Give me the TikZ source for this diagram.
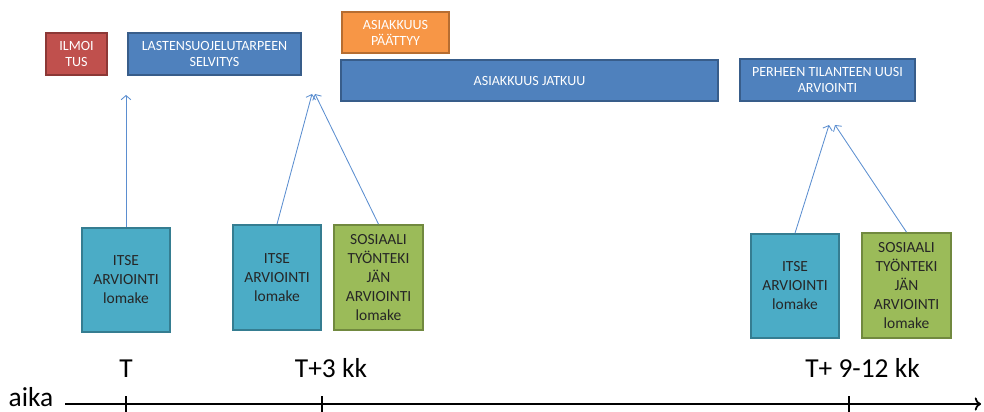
\documentclass[tikz,border=0pt]{standalone}
\usepackage{fontspec}
\setmainfont{Carlito}
\usetikzlibrary{arrows, arrows.meta}
\definecolor{redfill}{HTML}{C0504D}
\definecolor{redline}{HTML}{8C3836}
\definecolor{bluefill}{HTML}{4F81BD}
\definecolor{blueline}{HTML}{385D8A}
\definecolor{orangefill}{HTML}{F79646}
\definecolor{orangeline}{HTML}{B66D31}
\definecolor{tealfill}{HTML}{4BACC6}
\definecolor{tealline}{HTML}{357D91}
\definecolor{greenfill}{HTML}{9BBB59}
\definecolor{greenline}{HTML}{71893F}
\definecolor{arrowblue}{HTML}{5B8ED0}

\begin{document}
\begin{tikzpicture}[x=0.025cm,y=-0.025cm,
    sz/.style 2 args={minimum width=#1*0.025cm, minimum height=#2*0.025cm},
    topbox/.style={draw, line width=1.2pt, inner sep=1pt, align=center, text=white,
      font=\fontsize{10}{11.3}\selectfont},
    formbox/.style={draw, line width=1.2pt, inner sep=1pt, align=center, text=black!85,
      font=\fontsize{11}{13.5}\selectfont},
    link/.style={-{Straight Barb[length=3pt,width=7pt]}, arrowblue, line width=0.6pt},
    timelabel/.style={anchor=base, inner sep=0pt, font=\fontsize{19.5}{22}\selectfont} ]
    \useasboundingbox (0,0) rectangle (984,412);
    % top row
    \node at (76.5,54) [topbox, sz={61}{42}, fill=redfill, draw=redline] (ilmoitus) {ILMOI\\TUS};
    \node at (214.5,54) [topbox, sz={173}{42}, fill=bluefill, draw=blueline] (selvitys) {LASTENSUOJELUTARPEEN\\SELVITYS};
    \node at (395.5,32.5) [topbox, sz={107}{41}, fill=orangefill, draw=orangeline] (paattyy) {ASIAKKUUS\\PÄÄTTYY};
    \node at (529.5,80.5) [topbox, sz={377}{41}, fill=bluefill, draw=blueline] (jatkuu) {ASIAKKUUS JATKUU};
    \node at (827.5,80) [topbox, sz={175}{42}, fill=bluefill, draw=blueline] (uusiarv) {PERHEEN TILANTEEN UUSI\\ARVIOINTI};
    % forms
    \node at (126,280) [formbox, sz={88}{104}, fill=tealfill, draw=tealline] (itse1) {ITSE\\ARVIOINTI\\lomake};
    \node at (277,277.5) [formbox, sz={88}{105}, fill=tealfill, draw=tealline] (itse2) {ITSE\\ARVIOINTI\\lomake};
    \node at (378.5,277.5) [formbox, sz={89}{105}, fill=greenfill, draw=greenline] (sos1) {SOSIAALI\\TYÖNTEKI\\JÄN\\ARVIOINTI\\lomake};
    \node at (795,286) [formbox, sz={88}{104}, fill=tealfill, draw=tealline] (itse3) {ITSE\\ARVIOINTI\\lomake};
    \node at (906.5,285.5) [formbox, sz={89}{105}, fill=greenfill, draw=greenline] (sos2) {SOSIAALI\\TYÖNTEKI\\JÄN\\ARVIOINTI\\lomake};
    % arrows
    \coordinate (tip1) at (126,95);
    \coordinate (tip2) at (312,94);
    \coordinate (tip3) at (315,94);
    \coordinate (tip4) at (829,125);
    \coordinate (tip5) at (835,125);
    \draw [link] (itse1.north) to (tip1);
    \draw [link] (itse2.north) to (tip2);
    \draw [link] (sos1.north) to (tip3);
    \draw [link] (itse3.north) to (tip4);
    \draw [link] (sos2.north) to (tip5);
    % time axis
    \coordinate (t0) at (65,404);
    \coordinate (t1) at (981,404);
    \draw [->, line width=1.3pt] (t0) to (t1);
    \node at (31,406) [timelabel] (aika) {aika};
    \foreach \x in {126, 322, 849} {
      \draw [line width=1.1pt] (\x,396) -- (\x,412);
    }
    \node at (126,377) [timelabel] (lT) {T};
    \node at (331,377) [timelabel] (lT3) {T+3 kk};
    \node at (862.5,377) [timelabel] (lT12) {T+ 9-12 kk};
\end{tikzpicture}
\end{document}
